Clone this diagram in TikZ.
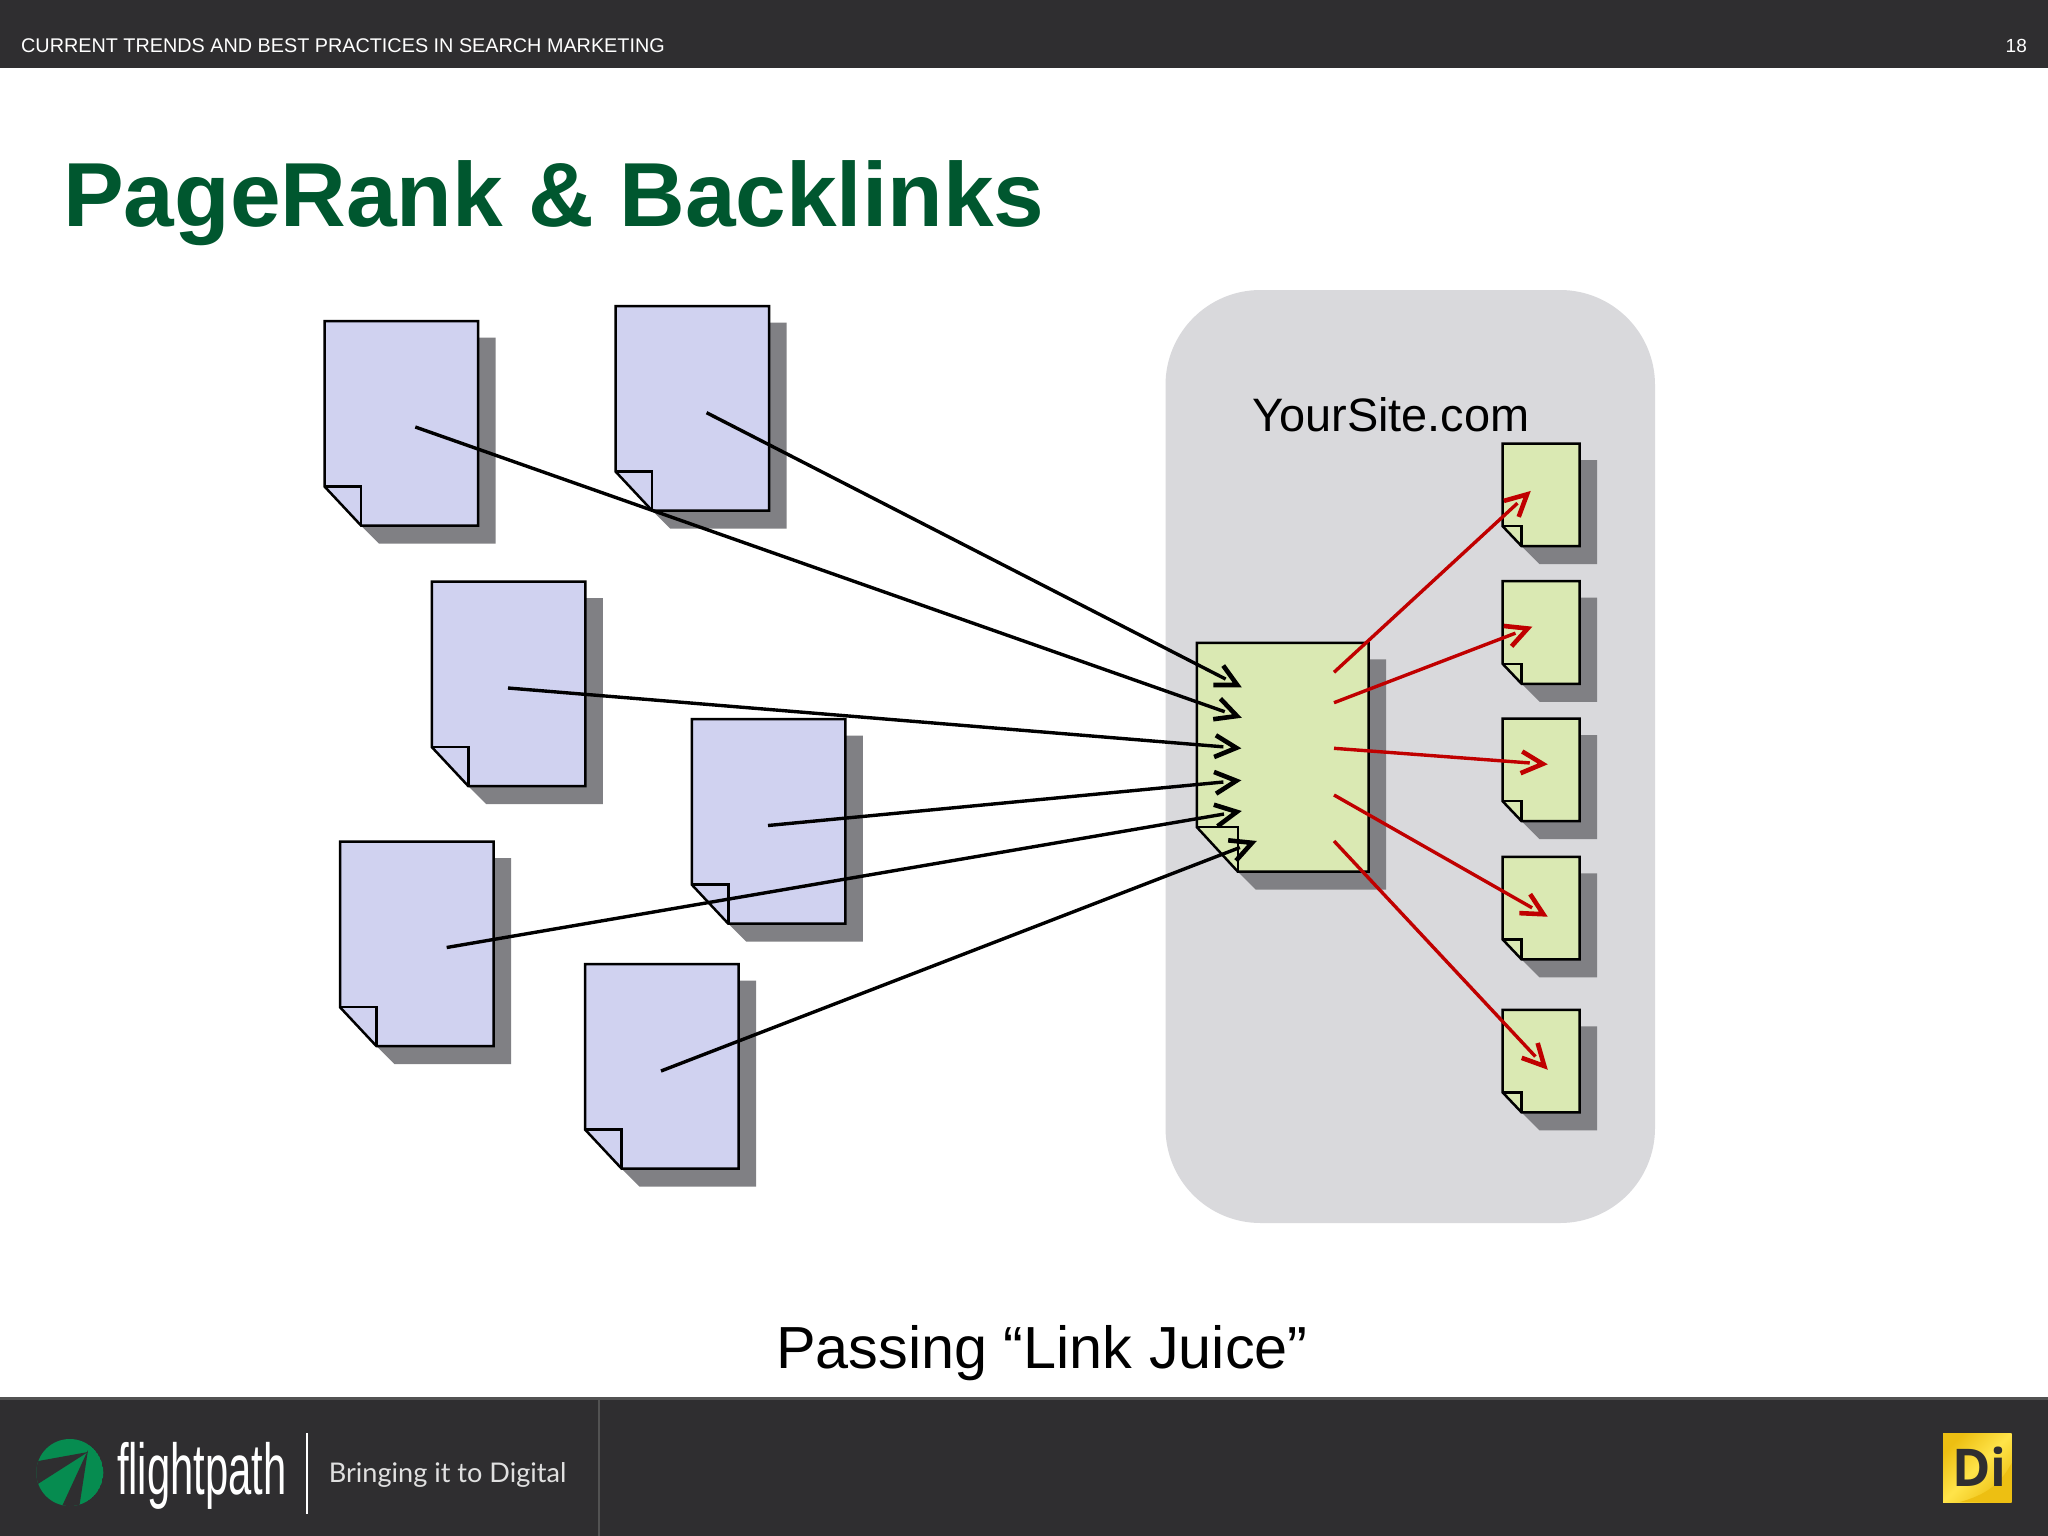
\documentclass[tikz,border=0pt]{standalone}
\usepackage{fontspec}
\setmainfont{Liberation Sans}
\newfontfamily\lato{Lato}
\newfontfamily\opens{Open Sans}
\usetikzlibrary{calc}
\definecolor{barc}{HTML}{2F2E30}
\definecolor{titlec}{HTML}{00572F}
\definecolor{bluep}{HTML}{D0D2F0}
\definecolor{greenp}{HTML}{DAE9B3}
\definecolor{shad}{HTML}{808084}
\definecolor{sitebg}{HTML}{D9D9DC}
\definecolor{redl}{HTML}{C00000}
\definecolor{logog}{HTML}{068C50}
\definecolor{diedge}{HTML}{EDBF12}
\definecolor{dimid}{HTML}{FFE44A}
\tikzset{
  x=1pt,y=-1pt,
  pagebox/.style={draw=black,line width=2.5pt,line join=miter},
  pageshadow/.style={fill=shad,draw=none},
  inlink/.style={draw=black},
  outlink/.style={draw=redl},
  linkshaft/.style={line width=3.4pt,shorten >=18pt},
  linkhead/.style={line width=4.6pt,line join=miter,miter limit=10},
  label/.style={inner sep=0pt,anchor=base west,text=black},
}
% name, x, y, w, h, fold w, fold h, fill
\newcommand\docpage[8]{%
  \fill[pageshadow] (#2+#4,#3+16.5) -- (#2+#4+17.5,#3+16.5) -- (#2+#4+17.5,#3+#5+18) -- (#2+#6+18,#3+#5+18) -- (#2+#6,#3+#5) -- cycle;
  \filldraw[pagebox,fill=#8] (#2,#3) -- (#2+#4,#3) -- (#2+#4,#3+#5) -- (#2+#6,#3+#5) -- (#2,#3+#5-#7) -- cycle;
  \draw[pagebox] (#2,#3+#5-#7) -- (#2+#6,#3+#5-#7) -- (#2+#6,#3+#5);
  \coordinate (#1) at (#2+#4/2,#3+#5/2);
}
% style, from, to: shaft stopping short of an open head
\newcommand\linkarrow[3]{%
  \draw[#1,linkshaft] (#2) -- (#3);
  \coordinate (v#3) at ($(#3)!5pt!(#2)$);
  \draw[#1,linkhead] ($(v#3)!24pt!27:(#2)$) -- (v#3) -- ($(v#3)!24pt!-27:(#2)$);
}
\begin{document}
\begin{tikzpicture}
\useasboundingbox (0,0) rectangle (2048,1536);
\fill[white] (0,0) rectangle (2048,1536);
% header
\fill[barc] (0,0) rectangle (2048,68);
\node[label,text=white,font=\fontsize{19.8}{24}\selectfont] (hdr) at (21,53) {CURRENT TRENDS AND BEST PRACTICES IN SEARCH MARKETING};
\node[inner sep=0pt,anchor=base east,text=white,font=\fontsize{19}{24}\selectfont] (num) at (2027,53) {18};
% title
\node[label,text=titlec,font=\bfseries\fontsize{91}{100}\selectfont] (title) at (63,226) {PageRank \& Backlinks};
% site area
\fill[sitebg,rounded corners=95pt] (1165.5,290) rectangle (1655,1223);
\node[label,font=\fontsize{46.9}{50}\selectfont] (site) at (1252,431) {YourSite.com};
% source pages
\docpage{pA}{324.7}{321.2}{153.5}{204.5}{36.5}{39}{bluep}
\docpage{pB}{615.7}{306.2}{153.5}{204.5}{36.5}{39}{bluep}
\docpage{pC}{431.9}{581.7}{153.5}{204.5}{36.5}{39}{bluep}
\docpage{pD}{691.8}{719.2}{153.5}{204.5}{36.5}{39}{bluep}
\docpage{pE}{340}{841.7}{153.5}{204.5}{36.5}{39}{bluep}
\docpage{pF}{585.2}{964.2}{153.5}{204.5}{36.5}{39}{bluep}
% main page
\docpage{pM}{1196.9}{642.9}{171.8}{228.8}{41}{44.5}{greenp}
% target pages
\docpage{pT}{1502.6}{443.6}{77}{102.6}{19}{20}{greenp}
\docpage{pU}{1502.6}{581.2}{77}{102.6}{19}{20}{greenp}
\docpage{pV}{1502.6}{718.6}{77}{102.6}{19}{20}{greenp}
\docpage{pW}{1502.6}{856.8}{77}{102.6}{19}{20}{greenp}
\docpage{pX}{1502.6}{1009.8}{77}{102.6}{19}{20}{greenp}
% connector ends
\coordinate (sA) at (415.3,427);
\coordinate (sB) at (706.6,412.7);
\coordinate (sC) at (508,688);
\coordinate (sD) at (768,825.5);
\coordinate (sE) at (446.7,947.5);
\coordinate (sF) at (661,1071);
\coordinate (i1) at (1241.7,687.3);
\coordinate (i2) at (1241.7,717.7);
\coordinate (i3) at (1241.3,748.3);
\coordinate (i4) at (1241.3,780.3);
\coordinate (i5) at (1241.7,811);
\coordinate (i6) at (1256.7,841);
\coordinate (o1) at (1334,672.3);
\coordinate (o2) at (1334,702.7);
\coordinate (o3) at (1334,748.3);
\coordinate (o4) at (1334,795);
\coordinate (o5) at (1334,841);
\coordinate (t1) at (1530.7,491);
\coordinate (t2) at (1532.3,626.7);
\coordinate (t3) at (1547.7,764.3);
\coordinate (t4) at (1547.7,916.7);
\coordinate (t5) at (1547.7,1069.7);
\linkarrow{inlink}{sB}{i1}
\linkarrow{inlink}{sA}{i2}
\linkarrow{inlink}{sC}{i3}
\linkarrow{inlink}{sD}{i4}
\linkarrow{inlink}{sE}{i5}
\linkarrow{inlink}{sF}{i6}
\linkarrow{outlink}{o1}{t1}
\linkarrow{outlink}{o2}{t2}
\linkarrow{outlink}{o3}{t3}
\linkarrow{outlink}{o4}{t4}
\linkarrow{outlink}{o5}{t5}
% caption
\node[label,font=\fontsize{59.4}{66}\selectfont] (cap) at (776,1368) {Passing “Link Juice”};
% footer
\fill[barc] (0,1397) rectangle (2048,1536);
\fill[black!68] (0,1397) rectangle (2048,1400);
\fill[black!68] (597.5,1397) rectangle (599.5,1536);
% logo
\begin{scope}
  \clip (69.8,1472.5) circle (33.5);
  \fill[logog] (69.8,1472.5) circle (33.5);
  \fill[barc] (88,1452) -- (30,1462.5) -- (30,1489) -- cycle;
  \fill[barc] (88,1450) -- (58,1515) -- (78,1515) -- cycle;
\end{scope}
\node[inner sep=0pt,anchor=base west,text=white,font=\fontsize{72}{72}\selectfont,xscale=.58] (fp) at (117,1494) {flightpath};
\fill[white] (306,1433) rectangle (308,1514);
\node[inner sep=0pt,anchor=base west,text=white!88!black,font=\lato\fontsize{27.1}{30}\selectfont] (tag) at (328.6,1482) {Bringing it to Digital};
% Di logo
\shade[left color=diedge,right color=diedge,middle color=dimid,shading angle=45] (1943,1433) rectangle (2011.7,1502);
\fill[diedge] (2011.7,1463) .. controls (2000,1485) and (1985,1495) .. (1960,1502) -- (2011.7,1502) -- cycle;
\node[inner sep=0pt,anchor=base west,text=barc,font=\opens\bfseries\fontsize{52}{54}\selectfont] (di) at (1952,1486) {Di};
\end{tikzpicture}
\end{document}
